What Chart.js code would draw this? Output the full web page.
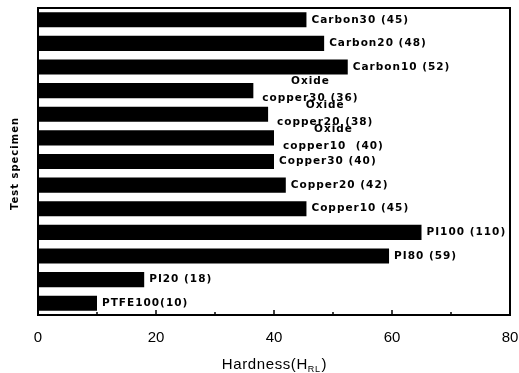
<!DOCTYPE html>
<html>
<head>
<meta charset="utf-8">
<script src="https://cdn.jsdelivr.net/npm/chart.js@4"></script>
<style>
  html, body { margin: 0; padding: 0; background: #fff; }
  #wrap { width: 519px; height: 373px; }
</style>
</head>
<body>
<div id="wrap"><canvas id="hardnessChart" width="519" height="373"></canvas></div>
<script>
// specimens, top to bottom
const specimens = ['Carbon30', 'Carbon20', 'Carbon10', 'Oxide copper30', 'Oxide copper20', 'Oxide copper10',
    'Copper30', 'Copper20', 'Copper10', 'PI100', 'PI80', 'PI20', 'PTFE100'];
const hardness = [45.5, 48.5, 52.5, 36.5, 39, 40, 40, 42, 45.5, 65, 59.5, 18, 10];
// labels as printed next to each bar (first line, second line)
const labelTop = ['', '', '', 'Oxide', 'Oxide', 'Oxide', '', '', '', '', '', '', ''];
const labelMain = ['Carbon30 (45)', 'Carbon20 (48)', 'Carbon10 (52)', 'copper30 (36)', 'copper20 (38)', 'copper10  (40)',
    'Copper30 (40)', 'Copper20 (42)', 'Copper10 (45)', 'PI100 (110)', 'PI80 (59)', 'PI20 (18)', 'PTFE100(10)'];
const xTicks = [0, 20, 40, 60, 80];

const labelFont = 'bold 10.5px "DejaVu Sans", sans-serif';

// text beside the bars
const barLabels = {
    id: 'barLabels',
    afterDatasetsDraw(chart) {
        const ctx = chart.ctx;
        const meta = chart.getDatasetMeta(0);
        ctx.save();
        ctx.fillStyle = '#000';
        ctx.font = labelFont;
        ctx.letterSpacing = '1px';
        ctx.textBaseline = 'middle';
        meta.data.forEach((bar, i) => {
            const x = bar.x + 5;
            if (labelTop[i]) {
                const w = ctx.measureText(labelMain[i]).width;
                ctx.textAlign = 'center';
                ctx.fillText(labelTop[i], x + 4 + w / 2, bar.y - 9);
                ctx.textAlign = 'left';
                ctx.fillText(labelMain[i], x + 4, bar.y + 8);
            } else {
                ctx.textAlign = 'left';
                ctx.fillText(labelMain[i], x, bar.y);
            }
        });
        ctx.restore();
    }
};

// frame, inward ticks and axis titles
const frame = {
    id: 'frame',
    afterDraw(chart) {
        const ctx = chart.ctx;
        const a = chart.chartArea;
        const xs = chart.scales.x;
        ctx.save();
        ctx.strokeStyle = '#000';
        ctx.lineWidth = 2;
        ctx.strokeRect(a.left, a.top, a.right - a.left, a.bottom - a.top);
        ctx.lineWidth = 1.5;
        xTicks.forEach(v => {
            const px = xs.getPixelForValue(v);
            ctx.beginPath();
            ctx.moveTo(px, a.bottom);
            ctx.lineTo(px, a.bottom - 5);
            ctx.stroke();
        });
        [10, 30, 50, 70].forEach(v => {
            const px = xs.getPixelForValue(v);
            ctx.beginPath();
            ctx.moveTo(px, a.bottom);
            ctx.lineTo(px, a.bottom - 3);
            ctx.stroke();
        });

        // x title with subscript
        ctx.fillStyle = '#000';
        ctx.textBaseline = 'alphabetic';
        ctx.textAlign = 'left';
        ctx.letterSpacing = '0.6px';
        const big = '15px "Liberation Sans", Arial, sans-serif';
        const small = '9px "Liberation Sans", Arial, sans-serif';
        ctx.font = big;
        const w1 = ctx.measureText('Hardness(H').width;
        ctx.font = small;
        const w2 = ctx.measureText('RL').width;
        ctx.font = big;
        const w3 = ctx.measureText(')').width;
        const cx = (a.left + a.right) / 2;
        let x0 = cx - (w1 + w2 + w3) / 2;
        const yb = 369;
        ctx.fillText('Hardness(H', x0, yb);
        ctx.font = small;
        ctx.fillText('RL', x0 + w1, yb + 3);
        ctx.font = big;
        ctx.fillText(')', x0 + w1 + w2 + 1, yb);

        // y title
        ctx.letterSpacing = '1px';
        ctx.translate(15, (a.top + a.bottom) / 2 + 2);
        ctx.rotate(-Math.PI / 2);
        ctx.textAlign = 'center';
        ctx.textBaseline = 'middle';
        ctx.font = 'bold 10px "DejaVu Sans", sans-serif';
        ctx.fillText('Test specimen', 0, 0);
        ctx.restore();
    }
};

const ctx = document.getElementById('hardnessChart').getContext('2d');
const hardnessChart = new Chart(ctx, {
    type: 'bar',
    data: {
        labels: specimens,
        datasets: [{
            label: 'Hardness',
            data: hardness,
            backgroundColor: '#000',
            borderWidth: 0,
            barPercentage: 0.64,
            categoryPercentage: 1
        }]
    },
    options: {
        indexAxis: 'y',
        responsive: false,
        animation: false,
        layout: { padding: { top: 8, right: 0, left: 0, bottom: 0 } },
        plugins: {
            legend: { display: false },
            tooltip: { enabled: false }
        },
        scales: {
            x: {
                min: 0,
                max: 80,
                afterFit: s => { s.height = 58; s.paddingRight = 9; },
                afterBuildTicks: s => { s.ticks = xTicks.map(v => ({ value: v })); },
                grid: { display: false, drawTicks: false },
                border: { display: false },
                ticks: {
                    padding: 14,
                    color: '#000',
                    font: { family: '"Liberation Sans", Arial, sans-serif', size: 15 }
                }
            },
            y: {
                afterFit: s => { s.width = 38; },
                grid: { display: false, drawTicks: false },
                border: { display: false },
                ticks: { display: false }
            }
        }
    },
    plugins: [barLabels, frame]
});
</script>
</body>
</html>
